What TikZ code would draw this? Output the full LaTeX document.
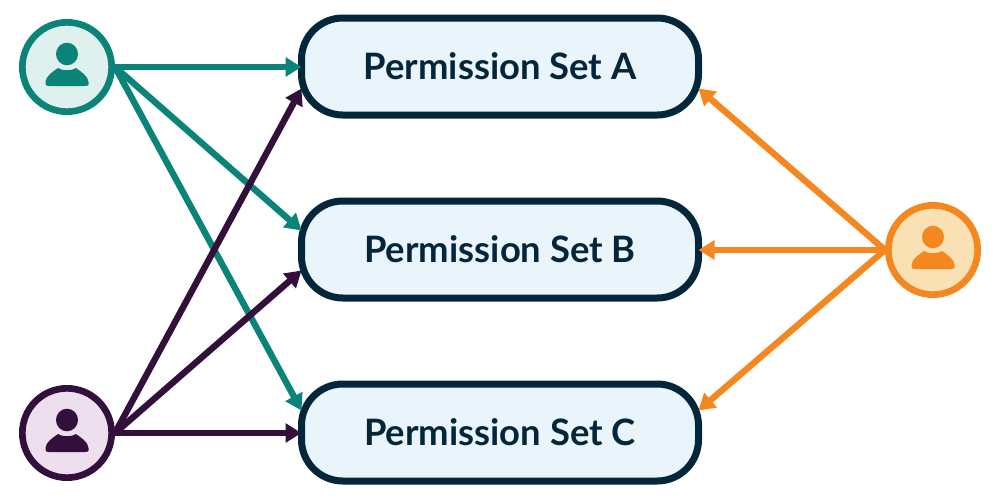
\documentclass[tikz,border=0pt]{standalone}
\usepackage{fontspec}
\setmainfont{Lato}
\usetikzlibrary{arrows.meta}
\usetikzlibrary{calc}

\definecolor{tealline}{HTML}{0A8478}
\definecolor{tealfill}{HTML}{DFF1EE}
\definecolor{plumline}{HTML}{32103B}
\definecolor{plumfill}{HTML}{EEDFEE}
\definecolor{orangeline}{HTML}{F58720}
\definecolor{orangefill}{HTML}{F9E1B3}
\definecolor{boxline}{HTML}{03263B}
\definecolor{boxfill}{HTML}{E9F4FB}

\tikzset{
  permbox/.style={draw=boxline, fill=boxfill, line width=5.25pt, rounded corners=31pt,
    minimum width=297.75pt, minimum height=72.75pt, outer sep=0pt, text=boxline,
    font=\fontsize{27.3}{32}\selectfont\bfseries},
  usercircle/.style={circle, line width=5pt, minimum size=67pt, inner sep=0pt},
  link/.style={line width=4.8pt, -{Triangle[length=12pt,width=14pt]}},
  person/.pic={
    \fill (0,-13) ellipse (11 and 11.3);
    \fill (-21.5,15) .. controls (-21.5,9) and (-13,4) .. (-9,1)
      .. controls (-5,4) and (5,4) .. (9,1)
      .. controls (13,4) and (21.5,9) .. (21.5,15)
      .. controls (22.5,19) and (20,19) .. (18,19) -- (-18,19)
      .. controls (-20,19) and (-21.5,19) .. (-21.5,15) -- cycle;
  }
}

\begin{document}
\begin{tikzpicture}[x=0.75pt, y=-0.75pt]
	\useasboundingbox (0,0) rectangle (1000,500);

	% Permission sets
	\node[permbox] (setA) at (500,66.5) {Permission Set A};
	\node[permbox] (setB) at (500,249.5) {Permission Set B};
	\node[permbox] (setC) at (500,432.5) {Permission Set C};

	% Users
	\node[usercircle, draw=tealline, fill=tealfill] (tealuser) at (67,67) {};
	\node[usercircle, draw=plumline, fill=plumfill] (plumuser) at (67,433) {};
	\node[usercircle, draw=orangeline, fill=orangefill] (orangeuser) at (933,250) {};
	\pic[tealline] at (tealuser) {person};
	\pic[plumline] at (plumuser) {person};
	\pic[orangeline] at (orangeuser) {person};

	% Links into each set
	\draw[link, tealline] (tealuser.east) -- (setA.west |- tealuser.east);
	\draw[link, tealline] (tealuser.east) -- ([yshift=14.25pt]setB.west);
	\draw[link, tealline] (tealuser.east) -- ([yshift=16.5pt]setC.west);

	\draw[link, plumline] (plumuser.east) -- ([yshift=-16.5pt]setA.west);
	\draw[link, plumline] (plumuser.east) -- ([yshift=-15.75pt]setB.west);
	\draw[link, plumline] (plumuser.east) -- (setC.west |- plumuser.east);

	\draw[link, orangeline] (orangeuser.west) -- ([yshift=-16.5pt]setA.east);
	\draw[link, orangeline] (orangeuser.west) -- (setB.east |- orangeuser.west);
	\draw[link, orangeline] (orangeuser.west) -- ([yshift=16.5pt]setC.east);
\end{tikzpicture}
\end{document}
